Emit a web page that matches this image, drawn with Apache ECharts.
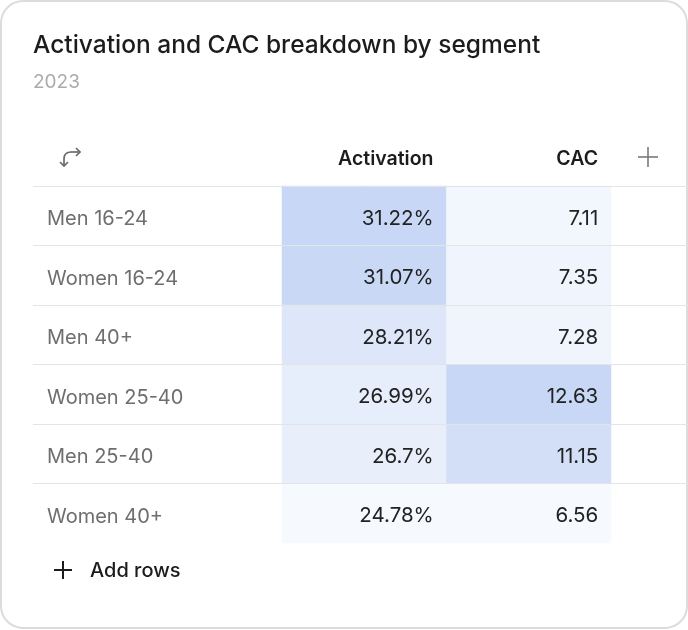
<!DOCTYPE html>
<html><head><meta charset="utf-8">
<script src="https://cdn.jsdelivr.net/npm/echarts@6/dist/echarts.min.js"></script>
<style>html,body{margin:0;padding:0;background:#fff}#c{width:688px;height:630px}</style>
</head><body><div id="c"></div>
<script>
const rows = ['Men 16-24','Women 16-24','Men 40+','Women 25-40','Men 25-40','Women 40+'];
const columns = ['Activation','CAC'];
const activation = [31.22, 31.07, 28.21, 26.99, 26.7, 24.78];
const cac = [7.11, 7.35, 7.28, 12.63, 11.15, 6.56];
const FONT = 'Inter, "Liberation Sans", sans-serif';

const actData = activation.map((v,i)=>[0,i,v]);
const cacData = cac.map((v,i)=>[1,i,v]);
const lightC = '#f6f9fe', darkC = '#c7d7f5';

const chart = echarts.init(document.getElementById('c'), null, {renderer:'canvas'});
chart.setOption({
  animation:false,
  backgroundColor:'transparent',
  textStyle:{fontFamily:FONT},
  title:{
    text:'Activation and CAC breakdown by segment',
    subtext:'2023',
    left:33, top:33, padding:0,
    itemGap:15,
    textStyle:{fontFamily:FONT,fontSize:24.5,fontWeight:500,color:'#1c1c1c'},
    subtextStyle:{fontFamily:FONT,fontSize:19,color:'#ababab'}
  },
  grid:[
    {left:282, right:77, top:186, bottom:87},
    {left:33, right:0, top:186, bottom:87}
  ],
  xAxis:[
    {type:'category', data:columns, gridIndex:0, show:false},
    {type:'value', gridIndex:0, position:'top', min:0, max:2, interval:1,
     axisLine:{show:false}, axisTick:{show:false}, splitLine:{show:false},
     axisLabel:{show:true, showMaxLabel:true, showMinLabel:false, align:'right', verticalAlign:'middle',
       margin:27, padding:[0,13,0,0], fontFamily:FONT, fontSize:19.5, fontWeight:600, color:'#1c1c1c',
       formatter:v=> v>=1 ? columns[Math.round(v)-1] : ''}},
    {type:'value', gridIndex:1, show:false, min:0, max:1}
  ],
  yAxis:[
    {type:'category', data:rows, gridIndex:0, inverse:true,
     axisLine:{show:false}, axisTick:{show:false}, splitLine:{show:false},
     axisLabel:{align:'left', margin:235, fontFamily:FONT, fontSize:20, color:'#6e6e6e',
       formatter:v=>'{r|'+v+'}',
       rich:{r:{fontFamily:FONT, fontSize:20, color:'#6e6e6e', padding:[7,0,0,0]}}}},
    {type:'category', data:rows, gridIndex:1, inverse:true, z:10,
     axisLine:{show:false}, axisTick:{show:false}, axisLabel:{show:false},
     splitLine:{show:true, showMinLine:true, showMaxLine:false, lineStyle:{color:'#e4e4e4', width:1}}}
  ],
  visualMap:[
    {show:false, seriesIndex:0, min:Math.min(...activation), max:Math.max(...activation), inRange:{color:[lightC,darkC]}},
    {show:false, seriesIndex:1, min:Math.min(...cac), max:Math.max(...cac), inRange:{color:[lightC,darkC]}}
  ],
  series:[
    {type:'heatmap', xAxisIndex:0, yAxisIndex:0, data:actData,
     label:{show:true, position:'insideRight', distance:13, offset:[0,3], fontFamily:FONT, fontSize:20.5, color:'#222',
       formatter:p=>p.value[2]+'%'}},
    {type:'heatmap', xAxisIndex:0, yAxisIndex:0, data:cacData,
     label:{show:true, position:'insideRight', distance:13, offset:[0,3], fontFamily:FONT, fontSize:20.5, color:'#222',
       formatter:p=>String(p.value[2])}}
  ],
  graphic:[
    {type:'rect', z:-10, shape:{x:1,y:1,width:686,height:627,r:22}, style:{fill:'#fff',stroke:'#dcdcdc',lineWidth:2}},
    // swap icon
    {type:'group', z:20, children:[
      {type:'line', shape:{x1:64,y1:166,x2:64,y2:159}, style:{stroke:'#6b6b6b',lineWidth:1.7}},
      {type:'bezierCurve', shape:{x1:64,y1:159,x2:71,y2:152,cpx1:64,cpy1:152}, style:{fill:null,stroke:'#6b6b6b',lineWidth:1.7}},
      {type:'line', shape:{x1:71,y1:152,x2:80,y2:152}, style:{stroke:'#6b6b6b',lineWidth:1.7}},
      {type:'polyline', shape:{points:[[76,148],[80,152],[76,156]]}, style:{fill:null,stroke:'#6b6b6b',lineWidth:1.7}},
      {type:'polyline', shape:{points:[[60,162],[64,166],[68,162]]}, style:{fill:null,stroke:'#6b6b6b',lineWidth:1.7}}
    ]},
    // header plus
    {type:'group', z:20, children:[
      {type:'line', shape:{x1:638,y1:157,x2:658,y2:157}, style:{stroke:'#7a7a7a',lineWidth:1.6}},
      {type:'line', shape:{x1:648,y1:147,x2:648,y2:167}, style:{stroke:'#7a7a7a',lineWidth:1.6}}
    ]},
    // add rows
    {type:'group', z:20, children:[
      {type:'line', shape:{x1:54,y1:570,x2:72,y2:570}, style:{stroke:'#1c1c1c',lineWidth:2}},
      {type:'line', shape:{x1:63,y1:561,x2:63,y2:579}, style:{stroke:'#1c1c1c',lineWidth:2}},
      {type:'text', style:{x:90,y:571,text:'Add rows',fontFamily:FONT,fontSize:20,fontWeight:500,fill:'#1c1c1c',verticalAlign:'middle'}}
    ]}
  ]
});
</script></body></html>
